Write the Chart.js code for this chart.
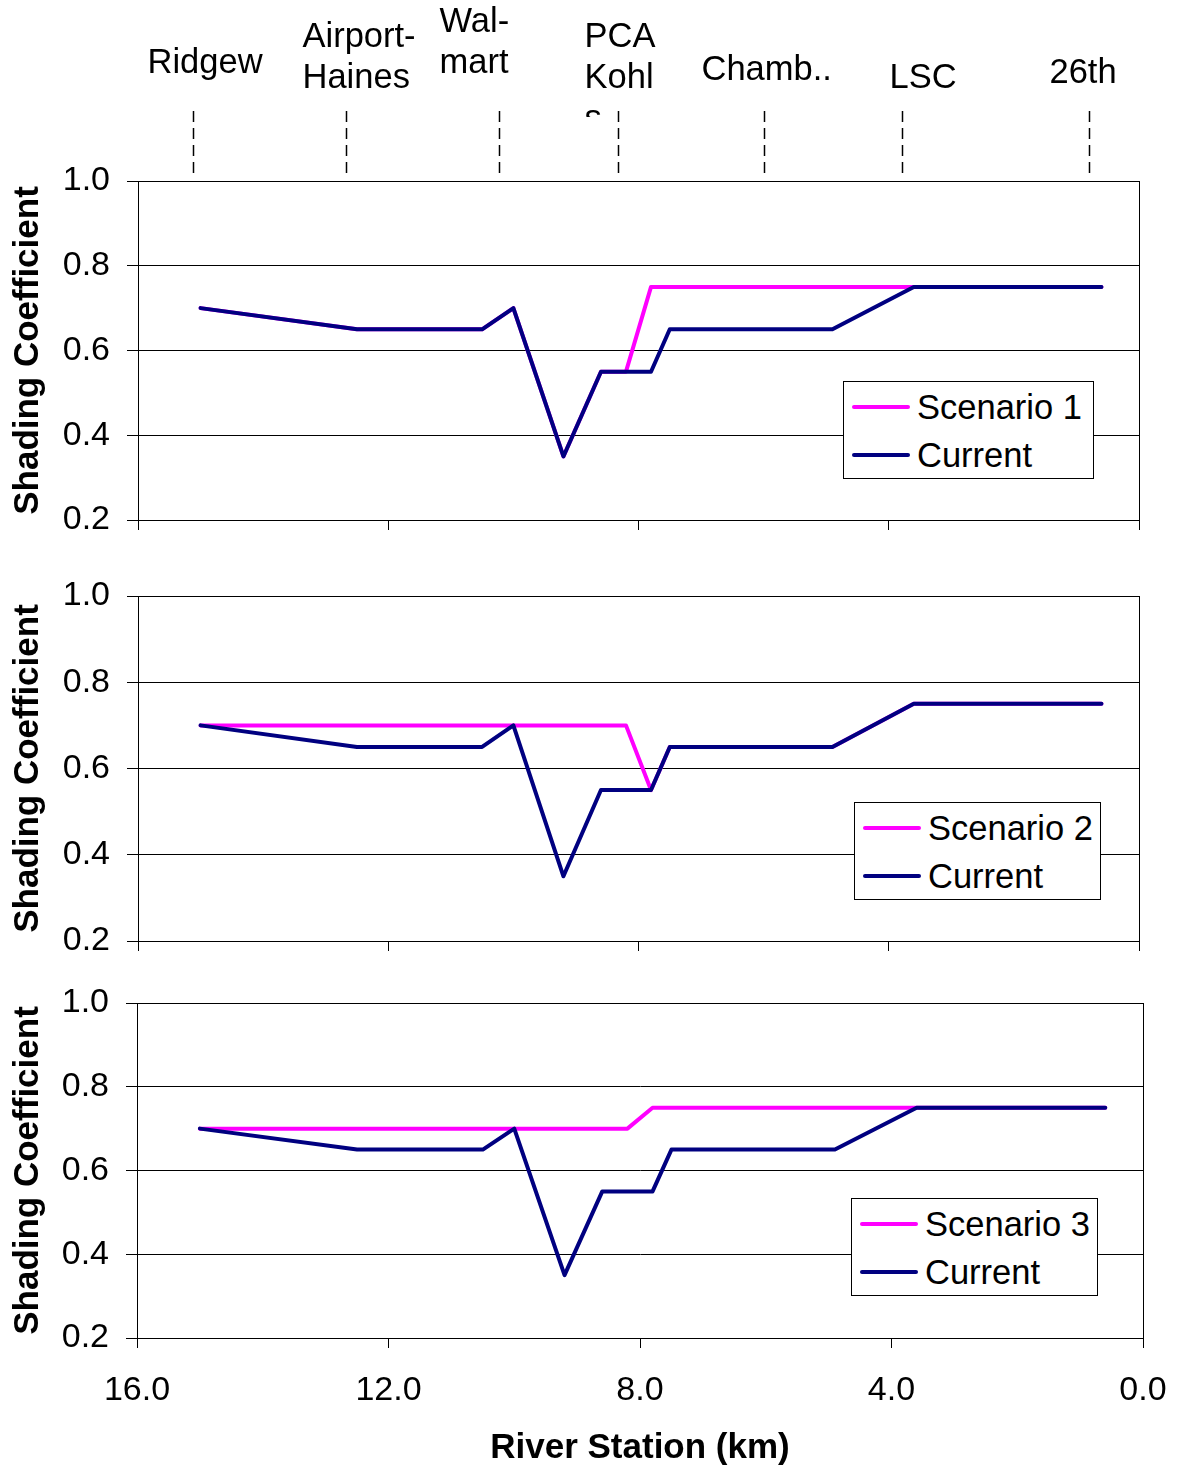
<!DOCTYPE html>
<html>
<head>
<meta charset="utf-8">
<script src="https://cdn.jsdelivr.net/npm/chart.js@4.4.1/dist/chart.umd.min.js"></script>
<style>
  body { margin: 0; background: #fff; font-family: 'Liberation Sans', Arial, sans-serif; }
  #page { position: relative; width: 1177px; height: 1469px; overflow: hidden; }
  canvas { position: absolute; left: 0; }
  .legend {
    position: absolute;
    box-sizing: border-box;
    width: 251px;
    height: 98px;
    padding-top: 1px;
    background: #fff;
    border: 1px solid #000;
  }
  .legend .row { display: flex; align-items: center; height: 48px; }
  .legend .swatch { width: 58px; height: 4px; margin: 0 7px 0 8px; border-radius: 2px; }
  .legend .label { font-size: 34.5px; color: #000; line-height: 48px; white-space: nowrap; }
</style>
</head>
<body>
<div id="page">
  <canvas id="chart1" width="1177" height="532" style="top:0"></canvas>
  <canvas id="chart2" width="1177" height="421" style="top:532px"></canvas>
  <canvas id="chart3" width="1177" height="516" style="top:953px"></canvas>
  <div class="legend" id="legend1" style="left:843px; top:381px;"></div>
  <div class="legend" id="legend2" style="left:854px; top:802px; width:247px;"></div>
  <div class="legend" id="legend3" style="left:851px; top:1198px; width:247px;"></div>
</div>
<script>
Chart.defaults.font.family = "'Liberation Sans', Arial, sans-serif"
Chart.defaults.color = '#000'

// river station (km) of each computed point
const riverKm = [15.0, 12.5, 10.5, 10.0, 9.2, 8.6, 8.2, 7.8, 7.5, 4.9, 3.6, 0.6]

const current = [0.70, 0.65, 0.65, 0.70, 0.35, 0.55, 0.55, 0.55, 0.65, 0.65, 0.75, 0.75]
const scenario1 = [0.70, 0.65, 0.65, 0.70, 0.35, 0.55, 0.55, 0.75, 0.75, 0.75, 0.75, 0.75]
const scenario2 = [0.70, 0.70, 0.70, 0.70, 0.70, 0.70, 0.70, 0.55, 0.65, 0.65, 0.75, 0.75]
const scenario3 = [0.70, 0.70, 0.70, 0.70, 0.70, 0.70, 0.70, 0.75, 0.75, 0.75, 0.75, 0.75]

// landmarks along the river, drawn above the top panel
const stationNames = [['Ridgew'], ['Airport-', 'Haines'], ['Wal-', 'mart'], ['PCA', 'Kohl', 's'], ['Chamb..'], ['LSC'], ['26th']]
const stationKm = [15.12, 12.68, 10.23, 8.33, 6.0, 3.79, 0.8]

const yTicks = { min: 0.2, max: 1.0, step: 0.2 }
const xTicks = { min: 0, max: 16, step: 4 }

// label placement: left edge relative to the marker line, first line centre
const stationLabelDx = [-46, -44, -60, -34, -63, -13, -40]
const stationLabelY = [63, 37, 22, 37, 70, 78, 73]

const toPoints = (values) => riverKm.map((km, i) => ({ x: km, y: values[i] }))

// keep the plot area where the layout puts it, no room for overhanging labels
const noOverhang = (scale) => {
  scale.paddingTop = 0
  scale.paddingBottom = 0
  scale.paddingLeft = 0
  scale.paddingRight = 0
}

const framePlugin = {
  id: 'frame',
  beforeDatasetsDraw: (chart) => {
    const { ctx, chartArea: a } = chart
    ctx.save()
    ctx.strokeStyle = '#000'
    ctx.lineWidth = 1
    ctx.strokeRect(Math.round(a.left) + 0.5, Math.round(a.top) + 0.5, Math.round(a.right - a.left), Math.round(a.bottom - a.top))
    ctx.restore()
  }
}

const stationPlugin = {
  id: 'stations',
  afterDraw: (chart) => {
    const { ctx } = chart
    const xScale = chart.scales.x
    ctx.save()
    ctx.font = "34.5px 'Liberation Sans', Arial, sans-serif"
    ctx.fillStyle = '#000'
    ctx.textAlign = 'left'
    ctx.textBaseline = 'middle'
    stationKm.forEach((km, i) => {
      const px = Math.round(xScale.getPixelForValue(km)) + 0.5
      // dashed marker
      ctx.strokeStyle = '#000'
      ctx.lineWidth = 1.5
      ctx.setLineDash([11, 6])
      ctx.beginPath()
      ctx.moveTo(px, 173)
      ctx.lineTo(px, 110)
      ctx.stroke()
      ctx.setLineDash([])
      // label text, the last line is cut by the label box
      ctx.save()
      ctx.beginPath()
      ctx.rect(0, 0, chart.width, 117)
      ctx.clip()
      stationNames[i].forEach((line, j) => {
        ctx.fillText(line, px + stationLabelDx[i], stationLabelY[i] + j * 41)
      })
      ctx.restore()
    })
    ctx.restore()
  }
}

const htmlLegend = (containerId, datasets) => {
  const el = document.getElementById(containerId)
  el.innerHTML = datasets.map((ds) => (
    `<div class="row"><span class="swatch" style="background:${ds.borderColor}"></span><span class="label">${ds.label}</span></div>`
  )).join('')
}

const makePanel = (canvasId, legendId, scenarioLabel, scenarioValues, layout) => {
  const datasets = [
    {
      label: scenarioLabel,
      data: toPoints(scenarioValues),
      borderColor: '#ff00ff',
      order: 1
    },
    {
      label: 'Current',
      data: toPoints(current),
      borderColor: '#000080',
      order: 0
    }
  ]

  htmlLegend(legendId, datasets)

  return new Chart(document.getElementById(canvasId), {
    type: 'line',
    data: { datasets },
    options: {
      responsive: false,
      animation: false,
      events: [],
      layout: { padding: { top: layout.top, left: 7, right: layout.right, bottom: 0 } },
      elements: {
        point: { radius: 0 },
        line: { borderWidth: 4, tension: 0, borderJoinStyle: 'round', borderCapStyle: 'round', fill: false }
      },
      plugins: {
        legend: { display: false },
        tooltip: { enabled: false }
      },
      scales: {
        x: {
          type: 'linear',
          reverse: true,
          min: xTicks.min,
          max: xTicks.max,
          ticks: {
            stepSize: xTicks.step,
            display: layout.showX,
            padding: 22,
            font: { size: 34 },
            maxRotation: 0,
            callback: (v) => v.toFixed(1)
          },
          grid: { drawOnChartArea: false, tickLength: 10, color: '#000' },
          border: { color: '#000', width: 1 },
          title: {
            display: layout.showX,
            text: 'River Station (km)',
            font: { size: 35, weight: 'bold' },
            padding: 0
          },
          afterFit: (scale) => {
            scale.height = layout.xHeight
            noOverhang(scale)
          }
        },
        y: {
          min: yTicks.min,
          max: yTicks.max,
          ticks: {
            stepSize: yTicks.step,
            padding: 17,
            font: { size: 34 },
            callback: (v) => v.toFixed(1)
          },
          grid: { color: '#000', tickLength: 11, lineWidth: 1 },
          border: { color: '#000', width: 1 },
          title: {
            display: true,
            text: 'Shading Coefficient',
            font: { size: 35, weight: 'bold' },
            padding: 0
          },
          afterFit: (scale) => {
            scale.width = layout.yWidth
            noOverhang(scale)
          }
        }
      }
    },
    plugins: layout.stations ? [framePlugin, stationPlugin] : [framePlugin]
  })
}

makePanel('chart1', 'legend1', 'Scenario 1', scenario1, { top: 181, right: 38, xHeight: 12, yWidth: 131, showX: false, stations: true })
makePanel('chart2', 'legend2', 'Scenario 2', scenario2, { top: 64, right: 38, xHeight: 12, yWidth: 131, showX: false })
makePanel('chart3', 'legend3', 'Scenario 3', scenario3, { top: 50, right: 34, xHeight: 131, yWidth: 130, showX: true })
</script>
</body>
</html>
